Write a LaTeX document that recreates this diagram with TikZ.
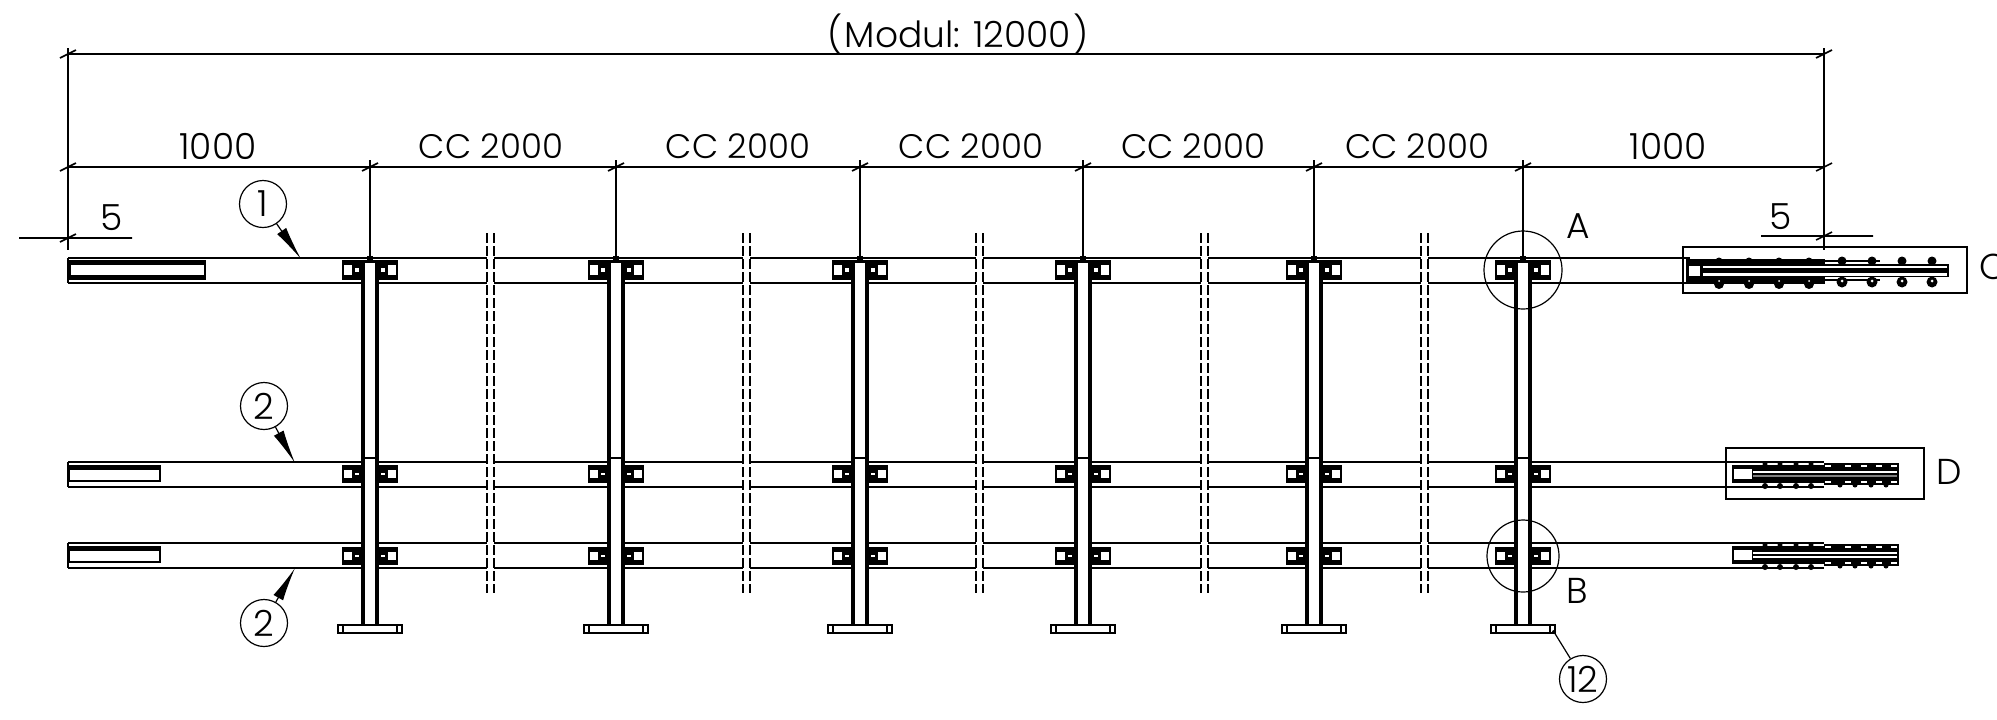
\documentclass[tikz,border=0pt]{standalone}
\usepackage{fontspec}
\setmainfont{Poppins Light}
\usetikzlibrary{arrows.meta}
\begin{document}
\begin{tikzpicture}[x=0.5pt,y=-0.5pt,
  rail/.style={line width=1pt},
  dimline/.style={line width=0.8pt},
  solid black/.style={fill=black,draw=none},
  hole/.style={fill=white,draw=none},
  balloon/.style={circle,draw,line width=0.6pt,minimum size=23.5pt,inner sep=0pt,font=\fontsize{18}{20}\selectfont},
  detail/.style={circle,draw,line width=0.6pt,inner sep=0pt},
  framebox/.style={draw,line width=0.8pt,fill=none},
  dimtext/.style={font=\fontsize{18}{20}\selectfont,inner sep=0pt},
  cctext/.style={font=\fontsize{17}{20}\selectfont,inner sep=0pt}]
  \useasboundingbox (0,0) rectangle (1997,719);
  % rails
  \draw[rail] (68,258) -- (1690,258) (68,283) -- (1690,283);
  \foreach \ry in {462,543} {
    \draw[rail] (68,\ry) -- (1824,\ry) (68,\ry+25) -- (1824,\ry+25);
    \draw[rail] (68,\ry) -- (68,\ry+25);
    \fill[solid black] (68,\ry+3) rectangle (161,\ry+20);
    \fill[hole] (70,\ry+8) rectangle (159,\ry+18);
  }
  \draw[rail] (68,258) -- (68,283);
  \fill[solid black] (69,260) rectangle (206,280);
  \fill[hole] (71,265) rectangle (204,275);
  % breaks
  \foreach \bx in {490.5,746.5,979.5,1204.5,1424.5} {
    \fill[white] (\bx-3.5,250) rectangle (\bx+3.5,590);
    \draw[dimline,dash pattern=on 5pt off 1.5pt] (\bx-3.5,233) -- (\bx-3.5,593) (\bx+3.5,233) -- (\bx+3.5,593);
  }
  % posts and clamps
  \foreach \px in {370,616,860,1083,1314,1523} {
    \foreach \cy/\ch in {260/20,465/18,547/18} {
      \fill[solid black] (\px-28,\cy) rectangle (\px+28,\cy+\ch);
      \fill[hole] (\px-26,\cy+5) rectangle (\px-18,\cy+\ch-5);
      \fill[hole] (\px+18,\cy+5) rectangle (\px+26,\cy+\ch-5);
      \fill[hole] (\px-15,\cy+8) rectangle (\px-11,\cy+\ch-8);
      \fill[hole] (\px+11,\cy+8) rectangle (\px+15,\cy+\ch-8);
    }
    \fill[solid black] (\px-3,256) rectangle (\px+3,262);
    \fill[solid black] (\px-9,262) rectangle (\px+9,625);
    \fill[hole] (\px-5,263) rectangle (\px+5,625);
    \draw[rail] (\px-6,458) -- (\px+6,458);
    \draw[rail,fill=white] (\px-32,625) rectangle (\px+32,633);
    \draw[line width=0.6pt] (\px-27,625) -- (\px-27,633) (\px+27,625) -- (\px+27,633);
  }
  % end C
  \fill[solid black] (1686,259) rectangle (1825,284);
  \fill[hole] (1689,266) rectangle (1700,276);
  \fill[solid black] (1825,264) rectangle (1949,277);
  \fill[hole] (1703,265.5) rectangle (1947,268);
  \fill[hole] (1703,273) rectangle (1947,275.5);
  \draw[rail] (1825,261) -- (1880,261) (1825,280) -- (1880,280);
  \foreach \bx in {1719,1749,1779,1809} {
    \fill (\bx,261) circle (3.5);
    \fill (\bx,284) circle (5);
    \fill[white] (\bx,281) circle (1);
  }
  \foreach \bx in {1842,1872,1902,1932} {
    \fill (\bx,261) circle (4.5);
    \fill (\bx,282) circle (5.5);
    \fill[white] (\bx,281) circle (1.5);
  }
  % ends D and below
  \foreach \ry/\lone/\ltwo/\ltwocol in {463/472/476/gray,544/553/557/white} {
    \fill[solid black] (1732,\ry+2) rectangle (1824,\ry+20);
    \fill[solid black] (1824,\ry) rectangle (1899,\ry+22);
    \fill[hole] (1734,\ry+6) rectangle (1752,\ry+16);
    \draw[white,line width=0.8pt] (1753,\lone) -- (1897,\lone);
    \draw[\ltwocol,line width=1pt] (1753,\ltwo) -- (1897,\ltwo);
    \foreach \bx in {1765,1780,1796,1811} {
      \fill (\bx,\ry+1) circle (2.5);
      \fill (\bx,\ry+23) circle (3);
    }
    \foreach \bx in {1840,1855,1871,1886} {
      \fill (\bx,\ry+22) circle (2.5);
    }
    \foreach \dx in {1825,1845,1861,1876,1891} {
      \draw[white,line width=0.8pt] (\dx,\ry+3) -- (\dx+6,\ry+3) (\dx,\ry+19) -- (\dx+6,\ry+19);
    }
    \foreach \dx in {1768,1783,1799,1814} {
      \draw[white,line width=0.8pt] (\dx,\ry+22) -- (\dx+7,\ry+22);
    }
  }
  % detail frames
  \draw[framebox] (1683,247) rectangle (1967,293);
  \draw[framebox] (1726,448) rectangle (1924,499);
  \node[dimtext] (labelC) at (1993,267) {C};
  \node[dimtext] (labelD) at (1949,472) {D};
  \node[detail,minimum size=39pt] (circleA) at (1523,270) {};
  \node[detail,minimum size=36pt] (circleB) at (1523,556) {};
  \node[dimtext] (labelA) at (1578,226) {A};
  \node[dimtext] (labelB) at (1577,591) {B};
  % dimension lines
  \foreach \ex/\eyb in {68/250,370/257,616/257,860/257,1083/257,1314/257,1523/257,1824/250} {
    \draw[dimline] (\ex,160) -- (\ex,\eyb);
    \draw[dimline] (\ex-8,171) -- (\ex+8,163);
  }
  \draw[dimline] (68,48) -- (68,160) (1824,48) -- (1824,160);
  \draw[dimline] (60,58) -- (76,50) (1816,58) -- (1832,50);
  \draw[dimline] (68,54) -- (1824,54);
  \draw[dimline] (68,167) -- (1824,167);
  \draw[dimline] (19,238) -- (132,238) (60,242) -- (76,234);
  \draw[dimline] (1761,236) -- (1873,236) (1816,240) -- (1832,232);
  \node[dimtext] (dimA) at (218,146) {1000};
  \foreach \tx [count=\ti] in {491,738,971,1193,1417} {
    \node[cctext] (dimcc\ti) at (\tx,146) {CC 2000};
  }
  \node[dimtext] (dimB) at (1668,146) {1000};
  \node[dimtext] (dimL) at (112,218) {5};
  \node[dimtext] (dimR) at (1781,217) {5};
  \node[dimtext] (dimM) at (958,34) {(\hspace{1pt}Modul: 12000\hspace{1pt})};
  % balloons
  \node[balloon] (item1) at (263,204) {1};
  \node[balloon] (item2a) at (264,406) {2};
  \node[balloon] (item2b) at (264,623) {2};
  \node[balloon] (item12) at (1583,679) {12};
  \coordinate (tip1) at (301,259);
  \coordinate (tip2a) at (295,463);
  \coordinate (tip2b) at (295,568);
  \coordinate (tip12) at (1554,632);
  \draw[line width=0.6pt,-{Latex[length=17pt,width=5.5pt]}] (item1) -- (tip1);
  \draw[line width=0.6pt,-{Latex[length=17pt,width=5.5pt]}] (item2a) -- (tip2a);
  \draw[line width=0.6pt,-{Latex[length=17pt,width=5.5pt]}] (item2b) -- (tip2b);
  \draw[line width=0.6pt] (item12) -- (tip12);
  \fill (tip12) circle (2);
\end{tikzpicture}
\end{document}
